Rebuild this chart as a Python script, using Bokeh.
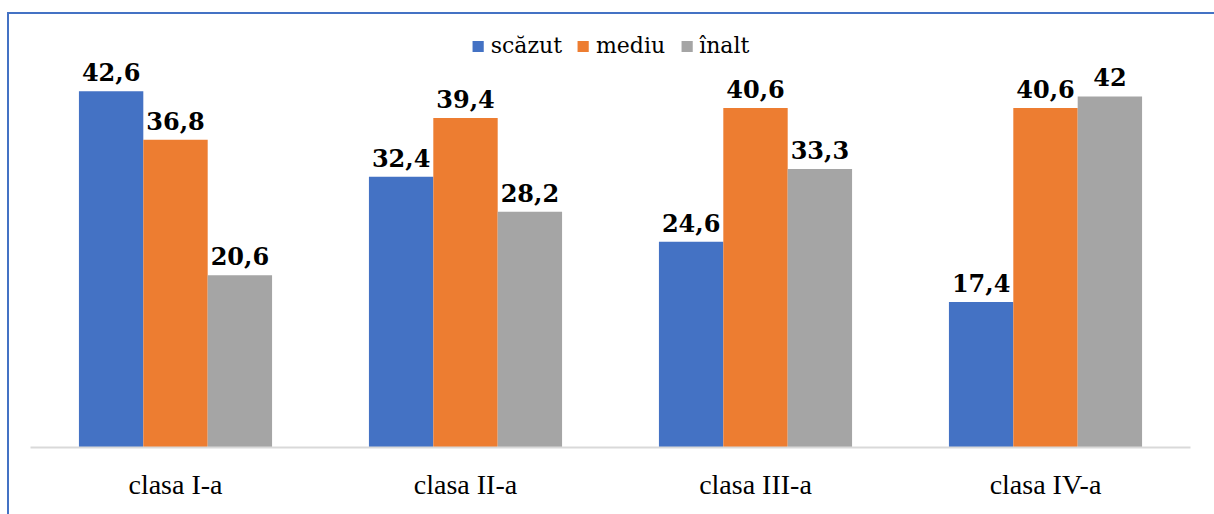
from bokeh.plotting import figure
from bokeh.models import ColumnDataSource, Legend, LegendItem, Range1d
from bokeh.transform import dodge
from bokeh.embed import file_html
from bokeh.resources import INLINE
from bokeh.core.properties import value

categories = ["clasa I-a", "clasa II-a", "clasa III-a", "clasa IV-a"]
series_names = ["scăzut", "mediu", "înalt"]
scazut = [42.6, 32.4, 24.6, 17.4]
mediu = [36.8, 39.4, 40.6, 40.6]
inalt = [20.6, 28.2, 33.3, 42.0]
colors = ["#4472C4", "#ED7D31", "#A5A5A5"]

AXIS_FONT = "Liberation Serif"
LABEL_FONT = "DejaVu Serif"


def fmt(v):
    if float(v).is_integer():
        return str(int(v))
    return ("%.1f" % v).replace(".", ",")


src = ColumnDataSource(dict(
    cat=categories,
    s0=scazut, s1=mediu, s2=inalt,
    l0=[fmt(v) for v in scazut],
    l1=[fmt(v) for v in mediu],
    l2=[fmt(v) for v in inalt],
))

p = figure(x_range=categories, y_range=Range1d(0, 50), width=1207, height=502,
           output_backend="svg", toolbar_location=None,
           min_border_left=21, min_border_right=26, min_border_top=15, min_border_bottom=69)
p.margin = (12, 0, 0, 7)
p.styles = {"border-top": "2px solid #4472C4", "border-left": "2px solid #4472C4",
            "box-sizing": "border-box"}

bw = 0.222
offsets = [-bw, 0.0, bw]
items = []
for i, (name, col, off) in enumerate(zip(series_names, colors, offsets)):
    r = p.vbar(x=dodge("cat", off, range=p.x_range), top="s%d" % i, width=bw,
               source=src, fill_color=col, line_color=None)
    items.append(LegendItem(label=name, renderers=[r]))
    p.text(x=dodge("cat", off, range=p.x_range), y="s%d" % i, text="l%d" % i,
           source=src, text_align="center", text_baseline="bottom", y_offset=-10,
           text_font=value(LABEL_FONT), text_font_style="bold",
           text_font_size="24px", text_color="black")

legend = Legend(items=items, orientation="horizontal", location="top_center",
                label_text_font=LABEL_FONT, label_text_font_style="normal",
                label_text_font_size="22px",
                label_text_color="#000000", glyph_width=14, glyph_height=14,
                border_line_color=None, background_fill_alpha=0, padding=0,
                margin=4, spacing=14, label_standoff=6)
p.add_layout(legend, "center")

p.yaxis.visible = False
p.xgrid.grid_line_color = None
p.ygrid.grid_line_color = None
p.outline_line_color = None
p.xaxis.axis_line_color = "#D9D9D9"
p.xaxis.axis_line_width = 2
p.xaxis.major_tick_line_color = None
p.xaxis.minor_tick_line_color = None
p.xaxis.major_label_text_font = AXIS_FONT
p.xaxis.major_label_text_font_size = "28px"
p.xaxis.major_label_text_color = "#000000"
p.xaxis.major_label_standoff = 15
p.x_range.range_padding = 0

open("out.html", "w").write(file_html(p, INLINE))
